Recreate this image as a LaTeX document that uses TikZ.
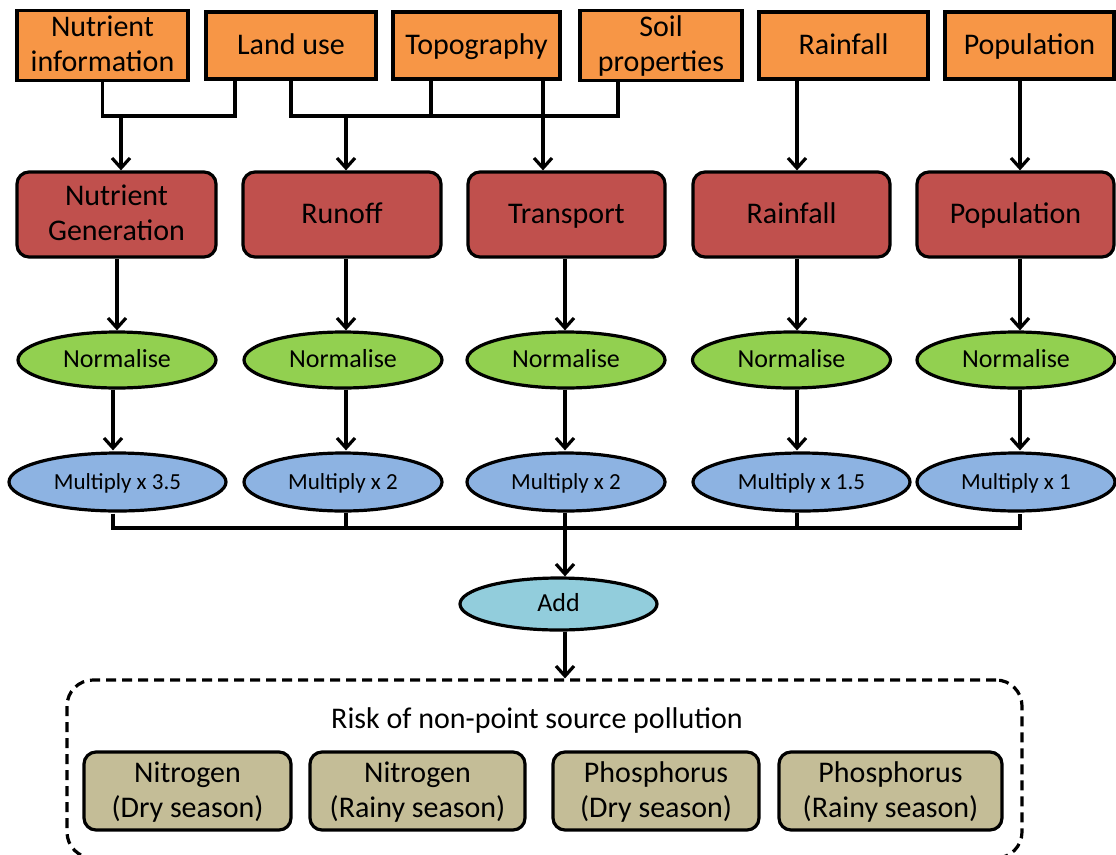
\documentclass[tikz,border=0pt]{standalone}
\usepackage{fontspec}
\setmainfont{Carlito}
\usetikzlibrary{arrows.meta,shapes.geometric}
\definecolor{orng}{HTML}{F79646}
\definecolor{rdd}{HTML}{C0504D}
\definecolor{grn}{HTML}{92D050}
\definecolor{blu}{HTML}{8DB3E2}
\definecolor{aqua}{HTML}{92CDDC}
\definecolor{tan}{HTML}{C4BD97}
\newcommand\mystrut{\rule[-9pt]{0pt}{35pt}}
\newcommand\smstrut{\rule[-8pt]{0pt}{31pt}}
\tikzset{
  base/.style={draw=black, line width=3.2pt, inner sep=0pt, align=center, text=black},
  bigtxt/.style={font=\fontsize{30}{35}\selectfont},
  nrmtxt/.style={font=\fontsize{26}{30}\selectfont},
  multxt/.style={font=\fontsize{23}{27}\selectfont},
  inbox/.style={base, bigtxt, fill=orng, minimum height=67pt},
  procbox/.style={base, bigtxt, fill=rdd, rounded corners=12pt, minimum width=198pt, minimum height=85pt},
  normell/.style={base, nrmtxt, ellipse, fill=grn, minimum width=198pt, minimum height=56pt},
  multell/.style={base, multxt, ellipse, fill=blu, minimum height=58pt},
  addell/.style={base, nrmtxt, ellipse, fill=aqua, minimum width=197pt, minimum height=52pt},
  outbox/.style={base, bigtxt, fill=tan, rounded corners=12pt, minimum height=78pt},
  ln/.style={line width=3.2pt, draw=black},
  arr/.style={ln, -{Straight Barb[length=10pt,width=18pt,line width=3.2pt]}},
}
\begin{document}
\begin{tikzpicture}[x=1pt,y=-1pt]
\useasboundingbox (0,0) rectangle (1116,854);
\clip (0,0) rectangle (1116,854);
% inputs
\node[inbox, minimum width=171pt] (oa) at (102.5,45.5) {\mystrut Nutrient\\\mystrut information};
\node[inbox, minimum width=170pt] (ob) at (291,45.5) {\mystrut Land use};
\node[inbox, minimum width=167pt] (oc) at (476.5,45.5) {\mystrut Topography};
\node[inbox, minimum width=162pt] (od) at (661,45.5) {\mystrut Soil\\\mystrut properties};
\node[inbox, minimum width=169pt] (oe) at (843.5,45.5) {\mystrut Rainfall};
\node[inbox, minimum width=169pt] (of) at (1029.5,45.5) {\mystrut Population};
% processes
\node[procbox, minimum width=199pt] (ng) at (116.5,214.5) {\mystrut Nutrient\\\mystrut Generation};
\node[procbox] (ru) at (342,214.5) {\mystrut Runoff};
\node[procbox, minimum width=197pt] (tr) at (566.5,214.5) {\mystrut Transport};
\node[procbox, minimum width=197pt] (ra) at (791.5,214.5) {\mystrut Rainfall};
\node[procbox, minimum width=197pt] (po) at (1015.5,214.5) {\mystrut Population};
% normalise
\node[normell] (n1) at (117,360) {\smstrut Normalise};
\node[normell] (n2) at (343,360) {\smstrut Normalise};
\node[normell] (n3) at (566,360) {\smstrut Normalise};
\node[normell] (n4) at (791.5,360) {\smstrut Normalise};
\node[normell] (n5) at (1016,360) {\smstrut Normalise};
% multiply
\node[multell, minimum width=217pt] (m1) at (117.5,482) {\smstrut Multiply x 3.5};
\node[multell, minimum width=198pt] (m2) at (343,482) {\smstrut Multiply x 2};
\node[multell, minimum width=198pt] (m3) at (566,482) {\smstrut Multiply x 2};
\node[multell, minimum width=217pt] (m4) at (801.5,482) {\smstrut Multiply x 1.5};
\node[multell, minimum width=198pt] (m5) at (1016,482) {\smstrut Multiply x 1};
% add
\node[addell] (ad) at (558.5,604) {\smstrut Add};
% output group
\node[draw=black, line width=3.2pt, dash pattern=on 10pt off 6pt, rounded corners=26pt, minimum width=955pt, minimum height=178pt, inner sep=0pt] (risk) at (544.5,769) {};
\node[bigtxt, inner sep=0pt] (rt) at (537,720) {\mystrut Risk of non-point source pollution};
\node[outbox, minimum width=207pt] (t1) at (187.5,791) {\mystrut Nitrogen\\\mystrut (Dry season)};
\node[outbox, minimum width=215pt] (t2) at (417.5,791) {\mystrut Nitrogen\\\mystrut (Rainy season)};
\node[outbox, minimum width=206pt] (t3) at (656,791) {\mystrut Phosphorus\\\mystrut (Dry season)};
\node[outbox, minimum width=223pt] (t4) at (890.5,791) {\mystrut Phosphorus\\\mystrut (Rainy season)};
% junction coordinates
\coordinate (ja) at (235,116);
\coordinate (jb) at (121,116);
\coordinate (jc) at (291,116);
\coordinate (jd) at (618,116);
\coordinate (je) at (431,116);
\coordinate (jf) at (346,116);
\coordinate (x1) at (117,0);
\coordinate (x1b) at (113,0);
\coordinate (x2) at (346,0);
\coordinate (x3) at (543,0);
\coordinate (x3b) at (565,0);
\coordinate (x4) at (797,0);
\coordinate (x5) at (1020,0);
\coordinate (bl) at (113,528);
\coordinate (br) at (1020,528);
% top connectors
\draw[ln] (oa.south) |- (ja) -- (ja |- ob.south);
\draw[arr] (jb) -- (jb |- ng.north);
\draw[ln] (ob.south) -- (jc) -- (jd) -- (jd |- od.south);
\draw[ln] (je) -- (je |- oc.south);
\draw[arr] (jf) -- (jf |- ru.north);
\draw[arr] (x3 |- oc.south) -- (x3 |- tr.north);
\draw[arr] (x4 |- oe.south) -- (x4 |- ra.north);
\draw[arr] (x5 |- of.south) -- (x5 |- po.north);
% process to normalise
\draw[arr] (x1 |- ng.south) -- (x1 |- n1.north);
\draw[arr] (x2 |- ru.south) -- (x2 |- n2.north);
\draw[arr] (x3b |- tr.south) -- (x3b |- n3.north);
\draw[arr] (x4 |- ra.south) -- (x4 |- n4.north);
\draw[arr] (x5 |- po.south) -- (x5 |- n5.north);
% normalise to multiply
\draw[arr] (x1b |- n1.south) -- ([yshift=1pt]x1b |- m1.north);
\draw[arr] (x2 |- n2.south) -- ([yshift=1pt]x2 |- m2.north);
\draw[arr] (x3b |- n3.south) -- ([yshift=1pt]x3b |- m3.north);
\draw[arr] (x4 |- n4.south) -- ([yshift=1pt]x4 |- m4.north);
\draw[arr] (x5 |- n5.south) -- ([yshift=1pt]x5 |- m5.north);
% collector
\draw[ln] ([yshift=-1pt]x1b |- m1.south) -- (bl) -- (br) -- ([yshift=-1pt]x5 |- m5.south);
\draw[ln] (x2 |- m2.south) -- (x2 |- bl);
\draw[ln] (x4 |- m4.south) -- (x4 |- bl);
\draw[arr] (x3b |- m3.south) -- (x3b |- ad.north);
\draw[arr] (x3b |- ad.south) -- (x3b |- risk.north);
\end{tikzpicture}
\end{document}
